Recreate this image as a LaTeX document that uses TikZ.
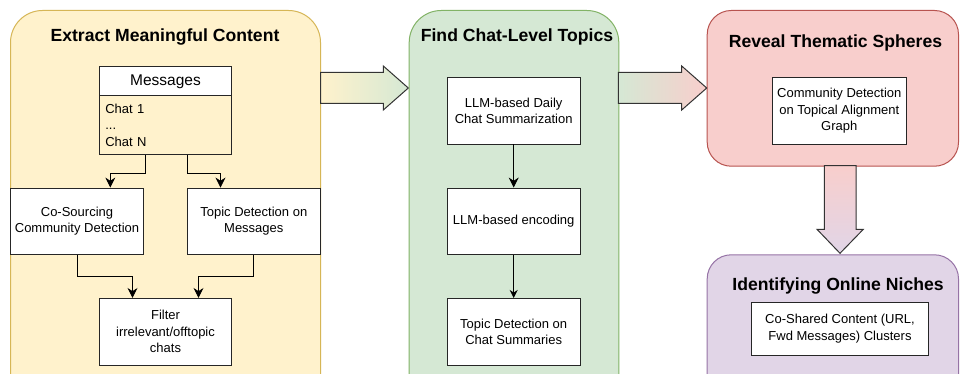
\documentclass[tikz,border=0pt]{standalone}
\usepackage{fontspec}
\setmainfont{Liberation Sans}
\usetikzlibrary{positioning,arrows.meta}

\definecolor{yelfill}{HTML}{FFF2CC}
\definecolor{yelline}{HTML}{D6B656}
\definecolor{grnfill}{HTML}{D5E8D4}
\definecolor{grnline}{HTML}{82B366}
\definecolor{redfill}{HTML}{F8CECC}
\definecolor{redline}{HTML}{B85450}
\definecolor{purfill}{HTML}{E1D5E7}
\definecolor{purline}{HTML}{9673A6}

\tikzset{
  panel/.style={line width=1pt, rounded corners=32pt, anchor=north west},
  stagetitle/.style={font=\bfseries\fontsize{17.6}{20}\selectfont},
  box/.style={draw=black!85, fill=white, line width=0.8pt, align=center,
    minimum width=132.5pt, minimum height=66.7pt, inner sep=2pt,
    font=\fontsize{13}{16.5}\selectfont},
  link/.style={-{Stealth[length=10pt,width=10pt]}, line width=0.8pt},
  bigarrow/.style={draw=black!80, line width=1pt}
}

\begin{document}
\begin{tikzpicture}[x=1pt,y=1pt]
  \useasboundingbox[fill=white] (0,0) rectangle (960,373);

  % stage 1: extract content
  \node [panel,draw=yelline,fill=yelfill,minimum width=310pt,minimum height=400pt] (extract) at (10,363) {};
  \node [stagetitle] (extractT) at (165,336) {Extract Meaningful Content};

  \node [box,minimum height=29pt,text depth=1pt,font=\fontsize{15.5}{17}\selectfont] (msgH) at (165.5,292.5) {Messages};
  \node [box,fill=yelfill,minimum height=59pt,below=0pt of msgH,align=left,
         text width=120.4pt,inner sep=6pt,inner ysep=2pt] (msg) {Chat 1\\...\\Chat N};

  \node [box] (cosrc) at (77,151.7) {Co-Sourcing\\Community Detection};
  \node [box] (topmsg) at (253.8,151.7) {Topic Detection on\\Messages};
  \node [box] (filter) at (165.5,41.3) {Filter\\irrelevant/offtopic\\chats};

  \draw[link] ([xshift=-20.5pt]msg.south) -- ++(0,-18) -| ([xshift=33.3pt]cosrc.north);
  \draw[link] ([xshift=21.8pt]msg.south) -- ++(0,-18) -| ([xshift=-33.3pt]topmsg.north);
  \draw[link] (cosrc.south) -- ++(0,-21.6) -| ([xshift=-33pt]filter.north);
  \draw[link] (topmsg.south) -- ++(0,-21.6) -| ([xshift=33pt]filter.north);

  % stage 2: chat topics
  \node [panel,draw=grnline,fill=grnfill,minimum width=209.6pt,minimum height=400pt] (topics) at (408.7,363) {};
  \node [stagetitle] (topicsT) at (517,336) {Find Chat-Level Topics};

  \node [box] (summ) at (513.7,262.3) {LLM-based Daily\\Chat Summarization};
  \node [box] (enc) at (513.7,151.7) {LLM-based encoding};
  \node [box] (tdsumm) at (513.7,41.3) {Topic Detection on\\Chat Summaries};

  \draw[link] (summ) -- (enc);
  \draw[link,-{Stealth[length=8pt,width=8pt]}] (enc) -- (tdsumm);

  % stage 3: thematic spheres
  \node [panel,draw=redline,fill=redfill,rounded corners=24pt,minimum width=251.3pt,minimum height=155.7pt] (spheres) at (706.7,363) {};
  \node [stagetitle] (spheresT) at (835.5,329.7) {Reveal Thematic Spheres};
  \node [box,minimum width=133.3pt] (commdet) at (839.3,262.3) {Community Detection\\on Topical Alignment\\Graph};

  % stage 4: niches
  \node [panel,draw=purline,fill=purfill,rounded corners=24pt,minimum width=251.3pt,minimum height=160pt] (niches) at (706.7,118.7) {};
  \node [stagetitle] (nichesT) at (838,87.3) {Identifying Online Niches};
  \node [box,minimum width=176.7pt,minimum height=52.3pt] (coshared) at (840,44.2) {Co-Shared Content (URL,\\Fwd Messages) Clusters};

  % block arrows between stages
  \draw[bigarrow,left color=yelfill,right color=grnfill]
    (320.5,269.7) -- (383.3,269.7) -- (383.3,263) -- (408.3,285)
    -- (383.3,307) -- (383.3,300.7) -- (320.5,300.7) -- cycle;
  \draw[bigarrow,left color=grnfill,right color=redfill]
    (618.3,269.7) -- (681.7,269.7) -- (681.7,263) -- (706.7,285)
    -- (681.7,307) -- (681.7,300.7) -- (618.3,300.7) -- cycle;
  \draw[bigarrow,top color=redfill,bottom color=purfill]
    (824.3,207.3) -- (824.3,143.7) -- (817,143.7) -- (840,119.7)
    -- (863.3,143.7) -- (856,143.7) -- (856,207.3) -- cycle;
\end{tikzpicture}
\end{document}
